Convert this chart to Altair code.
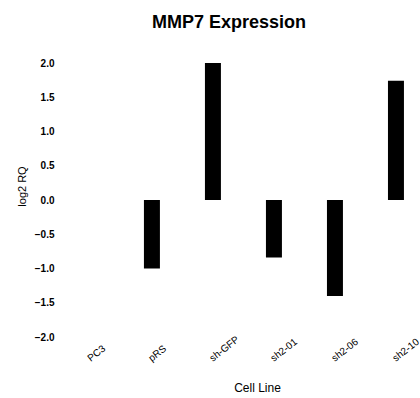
import altair as alt
import pandas as pd

cell_lines = ["PC3", "pRS", "sh-GFP", "sh2-01", "sh2-06", "sh2-10"]
log2_rq = [0.0, -1.0, 2.0, -0.84, -1.40, 1.74]
y_ticks = [-2.0, -1.5, -1.0, -0.5, 0.0, 0.5, 1.0, 1.5, 2.0]

df = pd.DataFrame({"Cell Line": cell_lines, "log2 RQ": log2_rq})

FONT = "Liberation Sans"

chart = (
    alt.Chart(df)
    .mark_bar(color="#000000")
    .encode(
        x=alt.X(
            "Cell Line:N",
            sort=cell_lines,
            scale=alt.Scale(paddingInner=0.738, paddingOuter=0.303, align=0.62),
            axis=alt.Axis(
                title="Cell Line",
                labelAngle=-38,
                labelAlign="left",
                labelBaseline="bottom",
                labelPadding=26,
                labelOffset=1,
                labelFontSize=10,
                labelFont=FONT,
                labelColor="#000",
                ticks=False,
                tickSize=0,
                domain=False,
                grid=False,
                titleFont=FONT,
                titleFontSize=12,
                titleFontWeight="normal",
                titleColor="#000",
                titleX=197,
                titleY=54,
                titleBaseline="alphabetic",
                titleAlign="center",
            ),
        ),
        y=alt.Y(
            "log2 RQ:Q",
            scale=alt.Scale(domain=[-2, 2], nice=False, zero=False),
            axis=alt.Axis(
                title="log2 RQ",
                values=y_ticks,
                format=".1f",
                labelFontSize=10,
                labelFontWeight="bold",
                labelFont=FONT,
                labelColor="#000",
                labelPadding=6,
                ticks=False,
                tickSize=0,
                domain=False,
                grid=False,
                titleFont=FONT,
                titleFontSize=11,
                titleFontWeight="normal",
                titleColor="#000",
                titleAngle=270,
                titleX=-38,
                titleY=123,
                titleAlign="center",
                titleBaseline="middle",
            ),
        ),
    )
    .properties(
        width=358,
        height=274,
        background="white",
        padding={"left": 60, "top": 63, "right": 2, "bottom": 61},
        autosize=alt.AutoSizeParams(type="none"),
        title=alt.TitleParams(
            "MMP7 Expression",
            font=FONT,
            fontSize=18,
            fontWeight="bold",
            color="#000",
            anchor="middle",
            dx=-10,
            offset=8,
            baseline="bottom",
        ),
    )
    .configure_view(stroke=None, strokeWidth=0)
)

chart.save("out.html", embed_options={"renderer": "svg", "actions": False})
